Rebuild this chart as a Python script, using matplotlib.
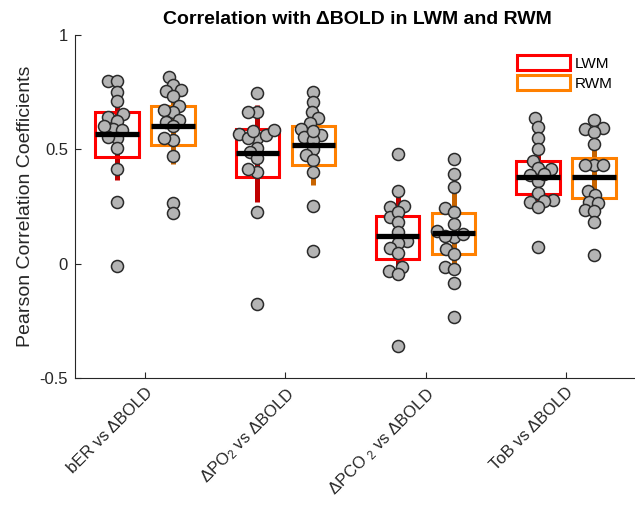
import numpy as np
import matplotlib
matplotlib.use('Agg')
import matplotlib.pyplot as plt
from matplotlib.patches import Patch

plt.rcParams['font.family'] = ['Liberation Sans', 'DejaVu Sans']
plt.rcParams['mathtext.fontset'] = 'custom'
plt.rcParams['mathtext.rm'] = 'Liberation Sans'
plt.rcParams['mathtext.it'] = 'Liberation Sans:italic'

# Категорії (підписи осі X)
categories = ['bER vs ΔBOLD', 'ΔPO$_2$ vs ΔBOLD', 'ΔPCO $_2$ vs ΔBOLD', 'ToB vs ΔBOLD']

# Коефіцієнти кореляції, LWM
ber_lwm = [0.80, 0.797, 0.75, 0.71, 0.655, 0.642, 0.626, 0.59, 0.583, 0.551, 0.553, 0.507, 0.413, 0.271, -0.01, 0.60]
po2_lwm = [0.746, 0.664, 0.664, 0.548, 0.565, 0.561, 0.548, 0.583, 0.580, 0.507, 0.488, 0.464, 0.401, 0.416, 0.225, -0.177]
pco2_lwm = [0.481, 0.316, 0.249, 0.254, 0.206, 0.225, 0.181, 0.140, 0.101, 0.090, 0.070, 0.048, -0.014, -0.033, -0.046, -0.362]
tob_lwm = [0.635, 0.599, 0.548, 0.50, 0.449, 0.417, 0.413, 0.387, 0.362, 0.309, 0.278, 0.273, 0.271, 0.246, 0.072, 0.39]

# Коефіцієнти кореляції, RWM
ber_rwm = [0.816, 0.783, 0.754, 0.758, 0.732, 0.691, 0.662, 0.671, 0.630, 0.619, 0.601, 0.543, 0.548, 0.471, 0.265, 0.222]
po2_rwm = [0.751, 0.707, 0.662, 0.635, 0.616, 0.591, 0.562, 0.555, 0.541, 0.50, 0.474, 0.452, 0.401, 0.251, 0.054, 0.58]
pco2_rwm = [0.459, 0.391, 0.336, 0.242, 0.228, 0.174, 0.145, 0.116, 0.123, 0.065, 0.043, -0.014, -0.022, -0.084, -0.232, 0.13]
tob_rwm = [0.630, 0.594, 0.590, 0.577, 0.522, 0.430, 0.430, 0.432, 0.319, 0.300, 0.271, 0.264, 0.236, 0.232, 0.181, 0.036]

# Статистика боксів
lwm_q1 = [0.467, 0.380, 0.022, 0.304]
lwm_med = [0.567, 0.484, 0.119, 0.381]
lwm_q3 = [0.663, 0.587, 0.210, 0.449]
lwm_lo = [0.367, 0.271, -0.070, 0.240]
lwm_hi = [0.770, 0.693, 0.297, 0.514]

rwm_q1 = [0.519, 0.430, 0.043, 0.287]
rwm_med = [0.604, 0.517, 0.133, 0.377]
rwm_q3 = [0.688, 0.601, 0.220, 0.461]
rwm_lo = [0.435, 0.343, -0.035, 0.180]
rwm_hi = [0.760, 0.700, 0.312, 0.500]

lwm_data = [ber_lwm, po2_lwm, pco2_lwm, tob_lwm]
rwm_data = [ber_rwm, po2_rwm, pco2_rwm, tob_rwm]


def swarm_x(vals, center, xpx, ypx, d=8.5, maxoff=18.0):
    # простий beeswarm у пікселях, з обмеженою шириною
    vals = np.asarray(vals)
    order = np.argsort(vals)
    cands = np.arange(-maxoff, maxoff + 0.1, 1.5)
    cands = cands[np.argsort(np.abs(cands), kind='stable')]
    placed = []
    xs = np.zeros(len(vals))
    for i in order:
        y = vals[i] * ypx
        best, best_d = 0.0, -1.0
        for off in cands:
            md = min([np.hypot(off - px, y - py) for px, py in placed], default=1e9)
            if md >= d:
                best = off
                break
            if md > best_d:
                best, best_d = off, md
        placed.append((best, y))
        xs[i] = center + best / xpx
    return xs


fig = plt.figure(figsize=(6.35, 5.05), dpi=100)
ax = fig.add_axes([75 / 635, 1 - 378 / 505, 561 / 635, 343 / 505])

x = np.arange(1, len(categories) + 1)
off = 0.2
bw = 0.31
xpx, ypx = 140.5, 229.0

for sign, q1, med, q3, lo, hi, data, col, wcol in [
        (-1, lwm_q1, lwm_med, lwm_q3, lwm_lo, lwm_hi, lwm_data, '#ff0000', '#c00000'),
        (1, rwm_q1, rwm_med, rwm_q3, rwm_lo, rwm_hi, rwm_data, '#ff8000', '#c86400')]:
    pos = x + sign * off
    ax.vlines(pos, lo, hi, colors=wcol, linewidth=3.6, zorder=1)
    ax.bar(pos, np.array(q3) - np.array(q1), bottom=q1, width=bw, fill=False,
           edgecolor=col, linewidth=2.2, zorder=2)
    for p, vals in zip(pos, data):
        xs = swarm_x(vals, p, xpx, ypx)
        ax.scatter(xs, vals, s=75, facecolor='#b4b4b4', edgecolor='#2a2a2a',
                   linewidth=1.1, zorder=3)
    ax.hlines(med, pos - bw / 2, pos + bw / 2, colors='black', linewidth=3.8, zorder=4)

ax.set_xlim(0.5, 4.5)
ax.set_ylim(-0.5, 1)
ax.set_yticks([-0.5, 0, 0.5, 1])
ax.set_yticklabels(['-0.5', '0', '0.5', '1'])
ax.set_xticks(x)
ax.set_xticklabels(categories, rotation=45, ha='right', va='top', rotation_mode='anchor')
ax.tick_params(direction='in', length=4, width=0.8, colors='#262626', labelsize=12, pad=5)
for s in ['top', 'right']:
    ax.spines[s].set_visible(False)
for s in ['left', 'bottom']:
    ax.spines[s].set_color('#262626')
    ax.spines[s].set_linewidth(0.8)

ax.set_ylabel('Pearson Correlation Coefficients', fontsize=14, color='#262626', labelpad=4)
fig.text(357 / 635, 1 - 20 / 505, 'Correlation with ΔBOLD in LWM and RWM',
         ha='center', va='center', fontsize=14, fontweight='bold')

handles = [Patch(facecolor='white', edgecolor='#ff0000', linewidth=2.2, label='LWM'),
           Patch(facecolor='white', edgecolor='#ff8000', linewidth=2.2, label='RWM')]
ax.legend(handles=handles, loc='upper left', bbox_to_anchor=(517 / 635, 1 - 55 / 505),
          bbox_transform=fig.transFigure, frameon=False, borderpad=0, borderaxespad=0,
          fontsize=11, handlelength=3.5, handleheight=1.1, labelspacing=0.3,
          handletextpad=0.3)

fig.savefig('out.png', dpi=100)
